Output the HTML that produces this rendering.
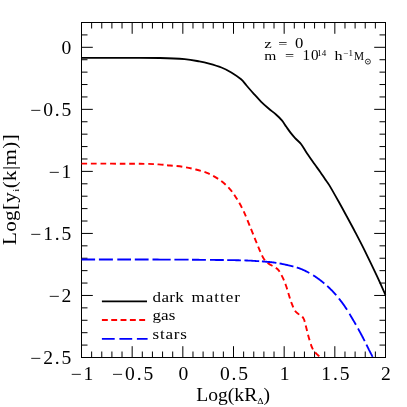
<!DOCTYPE html>
<html><head><meta charset="utf-8"><title>chart</title>
<style>
html,body{margin:0;padding:0;background:#fff;overflow:hidden;}
svg{display:block;position:absolute;left:0;top:0;font-family:"Liberation Serif",serif;fill:#000;-webkit-font-smoothing:antialiased;}
.t{filter:grayscale(1);}
</style></head>
<body>
<svg width="407" height="407" viewBox="0 0 407 407">
<rect width="407" height="407" fill="#fff"/>
<path d="M81.50 357.50v-11.30M81.50 22.50v11.30M91.63 357.50v-6.00M91.63 22.50v6.00M101.77 357.50v-6.00M101.77 22.50v6.00M111.90 357.50v-6.00M111.90 22.50v6.00M122.03 357.50v-6.00M122.03 22.50v6.00M132.17 357.50v-11.30M132.17 22.50v11.30M142.30 357.50v-6.00M142.30 22.50v6.00M152.43 357.50v-6.00M152.43 22.50v6.00M162.57 357.50v-6.00M162.57 22.50v6.00M172.70 357.50v-6.00M172.70 22.50v6.00M182.83 357.50v-11.30M182.83 22.50v11.30M192.97 357.50v-6.00M192.97 22.50v6.00M203.10 357.50v-6.00M203.10 22.50v6.00M213.23 357.50v-6.00M213.23 22.50v6.00M223.37 357.50v-6.00M223.37 22.50v6.00M233.50 357.50v-11.30M233.50 22.50v11.30M243.63 357.50v-6.00M243.63 22.50v6.00M253.77 357.50v-6.00M253.77 22.50v6.00M263.90 357.50v-6.00M263.90 22.50v6.00M274.03 357.50v-6.00M274.03 22.50v6.00M284.17 357.50v-11.30M284.17 22.50v11.30M294.30 357.50v-6.00M294.30 22.50v6.00M304.43 357.50v-6.00M304.43 22.50v6.00M314.57 357.50v-6.00M314.57 22.50v6.00M324.70 357.50v-6.00M324.70 22.50v6.00M334.83 357.50v-11.30M334.83 22.50v11.30M344.97 357.50v-6.00M344.97 22.50v6.00M355.10 357.50v-6.00M355.10 22.50v6.00M365.23 357.50v-6.00M365.23 22.50v6.00M375.37 357.50v-6.00M375.37 22.50v6.00M385.50 357.50v-11.30M385.50 22.50v11.30M81.50 357.50h11.30M385.50 357.50h-11.30M81.50 345.09h6.00M385.50 345.09h-6.00M81.50 332.69h6.00M385.50 332.69h-6.00M81.50 320.28h6.00M385.50 320.28h-6.00M81.50 307.87h6.00M385.50 307.87h-6.00M81.50 295.46h11.30M385.50 295.46h-11.30M81.50 283.06h6.00M385.50 283.06h-6.00M81.50 270.65h6.00M385.50 270.65h-6.00M81.50 258.24h6.00M385.50 258.24h-6.00M81.50 245.83h6.00M385.50 245.83h-6.00M81.50 233.43h11.30M385.50 233.43h-11.30M81.50 221.02h6.00M385.50 221.02h-6.00M81.50 208.61h6.00M385.50 208.61h-6.00M81.50 196.20h6.00M385.50 196.20h-6.00M81.50 183.80h6.00M385.50 183.80h-6.00M81.50 171.39h11.30M385.50 171.39h-11.30M81.50 158.98h6.00M385.50 158.98h-6.00M81.50 146.57h6.00M385.50 146.57h-6.00M81.50 134.17h6.00M385.50 134.17h-6.00M81.50 121.76h6.00M385.50 121.76h-6.00M81.50 109.35h11.30M385.50 109.35h-11.30M81.50 96.94h6.00M385.50 96.94h-6.00M81.50 84.54h6.00M385.50 84.54h-6.00M81.50 72.13h6.00M385.50 72.13h-6.00M81.50 59.72h6.00M385.50 59.72h-6.00M81.50 47.31h11.30M385.50 47.31h-11.30M81.50 34.91h6.00M385.50 34.91h-6.00M81.50 22.50h6.00M385.50 22.50h-6.00" stroke="#000" stroke-width="1" fill="none"/>
<rect x="81.5" y="22.5" width="304.0" height="335.0" fill="none" stroke="#000" stroke-width="1"/>
<path d="M81.50 57.80C89.75 57.80 117.92 57.77 131.00 57.80C144.08 57.83 151.07 57.77 160.00 58.00C168.93 58.23 178.05 58.63 184.60 59.20C191.15 59.77 195.22 60.67 199.30 61.40C203.38 62.13 205.42 62.58 209.10 63.60C212.78 64.62 217.70 66.03 221.40 67.50C225.10 68.97 228.02 70.43 231.30 72.40C234.58 74.37 238.57 77.12 241.10 79.30C243.63 81.48 244.38 83.08 246.50 85.50C248.62 87.92 251.35 91.08 253.80 93.80C256.25 96.52 258.73 99.35 261.20 101.80C263.67 104.25 266.13 106.38 268.60 108.50C271.07 110.62 273.78 112.52 276.00 114.50C278.22 116.48 280.18 118.35 281.90 120.40C283.62 122.45 284.83 124.72 286.30 126.80C287.77 128.88 289.23 131.02 290.70 132.90C292.17 134.78 293.35 136.22 295.10 138.10C296.85 139.98 299.20 141.62 301.20 144.20C303.20 146.78 304.88 150.28 307.10 153.60C309.32 156.92 312.28 161.00 314.50 164.10C316.72 167.20 318.68 169.75 320.40 172.20C322.12 174.65 323.30 176.60 324.80 178.80C326.30 181.00 326.98 181.40 329.40 185.40C331.82 189.40 336.42 197.65 339.30 202.80C342.18 207.95 344.03 211.38 346.70 216.30C349.37 221.22 352.22 226.42 355.30 232.30C358.38 238.18 361.58 244.28 365.20 251.60C368.82 258.92 373.63 269.00 377.00 276.20C380.37 283.40 384.00 291.70 385.40 294.80" stroke="#000" stroke-width="1.8" fill="none" stroke-linejoin="round"/>
<path d="M81.50 163.60C91.25 163.63 127.15 163.67 140.00 163.80C152.85 163.93 153.60 164.12 158.60 164.40C163.60 164.68 166.05 165.12 170.00 165.50C173.95 165.88 178.20 166.08 182.30 166.70C186.40 167.32 190.50 168.17 194.60 169.20C198.70 170.23 202.82 171.18 206.90 172.90C210.98 174.62 215.42 176.97 219.10 179.50C222.78 182.03 226.13 185.03 229.00 188.10C231.87 191.17 233.85 194.02 236.30 197.90C238.75 201.78 241.23 206.18 243.70 211.40C246.17 216.62 249.00 224.10 251.10 229.20C253.20 234.30 254.72 238.13 256.30 242.00C257.88 245.87 259.30 249.53 260.60 252.40C261.90 255.27 262.80 257.35 264.10 259.20C265.40 261.05 266.68 262.20 268.40 263.50C270.12 264.80 272.68 265.85 274.40 267.00C276.12 268.15 277.27 268.53 278.70 270.40C280.13 272.27 281.72 275.47 283.00 278.20C284.28 280.93 285.42 284.00 286.40 286.80C287.38 289.60 288.05 292.32 288.90 295.00C289.75 297.68 290.50 300.30 291.50 302.90C292.50 305.50 293.62 308.65 294.90 310.60C296.18 312.55 297.77 313.30 299.20 314.60C300.63 315.90 302.35 316.33 303.50 318.40C304.65 320.47 305.23 323.85 306.10 327.00C306.97 330.15 307.70 333.87 308.70 337.30C309.70 340.73 310.95 345.02 312.10 347.60C313.25 350.18 314.38 351.32 315.60 352.80C316.82 354.28 318.77 355.88 319.40 356.50" stroke="#f00" stroke-width="1.9" fill="none" stroke-dasharray="5.73 3.79"/>
<path d="M81.50 259.45L81.50 259.45L83.30 259.45L85.42 259.45L87.82 259.46L90.49 259.46L93.39 259.46L95.10 259.46M98.90 259.47L99.81 259.47L103.28 259.47L106.88 259.47L110.59 259.48L112.90 259.48M117.30 259.48L118.25 259.48L122.14 259.49L126.05 259.49L129.93 259.50L131.00 259.50M134.80 259.50L137.56 259.51L141.24 259.51L144.81 259.52L148.24 259.52L148.60 259.52M152.50 259.53L154.56 259.54L157.40 259.54L160.00 259.55L162.40 259.56L164.68 259.56L166.84 259.57L168.89 259.58L170.70 259.59M174.40 259.60L174.48 259.60L176.19 259.61L177.82 259.62L179.40 259.63L180.92 259.64L182.41 259.65L183.86 259.66L185.28 259.67L186.69 259.68L188.09 259.69L188.60 259.70M192.00 259.73L192.33 259.73L193.78 259.74L195.26 259.76L196.79 259.77L198.37 259.78L200.00 259.80L201.69 259.82L203.41 259.83L205.16 259.85L205.90 259.86M210.00 259.90L210.53 259.90L212.35 259.92L214.18 259.94L216.00 259.96L217.82 259.98L219.63 260.00L221.43 260.02L223.20 260.04L223.80 260.04M227.20 260.09L228.36 260.10L230.00 260.12L231.60 260.15L233.16 260.17L234.65 260.20L236.09 260.22L237.46 260.25L238.77 260.27L240.00 260.30L240.90 260.32M244.40 260.41L245.07 260.44L245.90 260.46L246.68 260.49L247.42 260.52L248.12 260.55L248.78 260.58L249.42 260.61L250.03 260.64L250.61 260.67L251.19 260.70L251.75 260.74L252.31 260.77L252.87 260.81L253.43 260.84L254.01 260.88L254.60 260.92L255.21 260.96L255.84 261.01L256.50 261.05L257.20 261.10L257.92 261.15L258.64 261.20L259.20 261.23M261.90 261.41L262.26 261.44L262.99 261.49L263.72 261.54L264.45 261.59L265.17 261.65L265.90 261.71L266.62 261.77L267.35 261.83L268.07 261.89L268.79 261.96L269.50 262.02L270.21 262.10L270.92 262.17L271.63 262.25L272.33 262.33L273.02 262.42L273.71 262.51L274.40 262.60L275.08 262.70L275.77 262.80L276.40 262.90M279.60 263.46L279.90 263.51L280.58 263.64L281.26 263.77L281.93 263.91L282.60 264.04L283.26 264.18L283.92 264.32L284.57 264.46L285.21 264.60L285.85 264.74L286.48 264.88L287.09 265.02L287.70 265.16L288.29 265.30L288.87 265.43L289.44 265.57L290.00 265.70L290.54 265.83L291.07 265.96L291.58 266.08L292.08 266.20L292.56 266.32L293.04 266.44L293.40 266.53M296.80 267.48L296.96 267.53L297.38 267.67L297.79 267.80L298.21 267.94L298.63 268.09L299.06 268.24L299.48 268.39L299.92 268.56L300.35 268.72L300.80 268.90L301.25 269.08L301.70 269.27L302.15 269.45L302.60 269.65L303.05 269.84L303.50 270.04L303.95 270.25L304.40 270.46L304.85 270.67L305.30 270.88L305.75 271.10L306.20 271.33L306.65 271.55L307.10 271.78L307.55 272.02L308.00 272.26L308.45 272.50L308.90 272.74L309.30 272.97M313.20 275.29L313.40 275.41L313.85 275.70L314.30 275.99L314.75 276.28L315.20 276.58L315.65 276.88L316.10 277.19L316.55 277.50L317.00 277.81L317.45 278.13L317.90 278.45L318.35 278.78L318.80 279.11L319.25 279.44L319.70 279.78L320.15 280.12L320.60 280.47L321.05 280.82L321.50 281.18L321.95 281.54L322.40 281.90L322.85 282.27L323.30 282.64L323.75 283.01L324.20 283.39L324.30 283.47M327.20 285.99L327.34 286.12L327.79 286.53L328.24 286.94L328.69 287.36L329.14 287.79L329.59 288.22L330.04 288.65L330.49 289.10L330.94 289.55L331.39 290.00L331.85 290.47L332.30 290.94L332.75 291.41L333.20 291.90L333.65 292.39L334.11 292.89L334.56 293.39L335.01 293.90L335.47 294.41L335.92 294.93L336.20 295.26M338.90 298.48L339.11 298.74L339.56 299.31L340.02 299.88L340.47 300.47L340.93 301.06L341.38 301.65L341.83 302.26L342.29 302.87L342.74 303.49L343.19 304.12L343.65 304.76L344.10 305.40L344.55 306.06L345.01 306.73L345.47 307.42L345.94 308.13L346.40 308.85L346.87 309.58L347.00 309.78M349.50 313.83L349.68 314.12L350.14 314.89L350.60 315.66L351.05 316.42L351.50 317.19L351.95 317.95L352.39 318.70L352.83 319.45L353.26 320.18L353.68 320.91L354.09 321.62L354.50 322.32L354.90 323.00L355.29 323.67L355.68 324.34L355.90 324.73M358.00 328.47L358.25 328.93L358.60 329.57L358.95 330.20L359.29 330.83L359.62 331.44L359.95 332.06L360.28 332.67L360.60 333.27L360.92 333.86L361.23 334.45L361.54 335.03L361.84 335.60L362.14 336.16L362.43 336.72L362.72 337.26L363.00 337.80L363.28 338.33L363.55 338.85L363.81 339.36L364.07 339.86L364.32 340.36L364.57 340.84L364.70 341.10M366.40 344.54L366.58 344.92L366.79 345.34L366.99 345.76L367.20 346.18L367.40 346.59L367.60 347.00L367.80 347.40L368.00 347.80L368.20 348.20L368.40 348.60L368.60 349.00L368.81 349.40L369.01 349.81L369.22 350.21L369.43 350.62L369.63 351.03L369.84 351.43L370.04 351.83L370.25 352.23L370.45 352.62L370.64 353.00L370.84 353.38L371.03 353.74L371.21 354.10L371.39 354.44L371.56 354.77L371.72 355.09L371.87 355.39L372.02 355.67L372.16 355.94L372.28 356.19L372.40 356.41L372.51 356.62L372.60 356.80L372.60 356.80" stroke="#00f" stroke-width="1.85" fill="none"/>
<path d="M101.9 301.4H147" stroke="#000" stroke-width="1.9"/>
<path d="M101.9 320.0H146.6" stroke="#f00" stroke-width="1.9" stroke-dasharray="5.9 3.43"/>
<path d="M101.9 338.9H147.6" stroke="#00f" stroke-width="1.9" stroke-dasharray="12.8 4.7"/>
<g class="t">
<text transform="translate(73.27 53.81) scale(1.1 1)" font-size="17.8" text-anchor="end" style="letter-spacing:1.7px" >0</text>
<text transform="translate(73.27 115.85) scale(1.1 1)" font-size="17.8" text-anchor="end" style="letter-spacing:1.7px" >−0.5</text>
<text transform="translate(73.27 177.89) scale(1.1 1)" font-size="17.8" text-anchor="end" style="letter-spacing:1.7px" >−1</text>
<text transform="translate(73.27 239.93) scale(1.1 1)" font-size="17.8" text-anchor="end" style="letter-spacing:1.7px" >−1.5</text>
<text transform="translate(73.27 301.96) scale(1.1 1)" font-size="17.8" text-anchor="end" style="letter-spacing:1.7px" >−2</text>
<text transform="translate(73.27 364.00) scale(1.1 1)" font-size="17.8" text-anchor="end" style="letter-spacing:1.7px" >−2.5</text>
<text transform="translate(82.94 380.00) scale(1.1 1)" font-size="17.8" text-anchor="middle" style="letter-spacing:1.7px" >−1</text>
<text transform="translate(133.60 380.00) scale(1.1 1)" font-size="17.8" text-anchor="middle" style="letter-spacing:1.7px" >−0.5</text>
<text transform="translate(184.27 380.00) scale(1.1 1)" font-size="17.8" text-anchor="middle" style="letter-spacing:1.7px" >0</text>
<text transform="translate(234.94 380.00) scale(1.1 1)" font-size="17.8" text-anchor="middle" style="letter-spacing:1.7px" >0.5</text>
<text transform="translate(285.60 380.00) scale(1.1 1)" font-size="17.8" text-anchor="middle" style="letter-spacing:1.7px" >1</text>
<text transform="translate(336.27 380.00) scale(1.1 1)" font-size="17.8" text-anchor="middle" style="letter-spacing:1.7px" >1.5</text>
<text transform="translate(386.94 380.00) scale(1.1 1)" font-size="17.8" text-anchor="middle" style="letter-spacing:1.7px" >2</text>
<text transform="translate(233.20 401.20) scale(1.1 1)" font-size="17.8" text-anchor="middle" >Log(kR<tspan font-size="9" dy="3">Δ</tspan><tspan dy="-3">)</tspan></text>
<text transform="translate(16.2 189.5) rotate(-90) scale(1.18 1)" font-size="17.8" text-anchor="middle" style="letter-spacing:0.34px">Log[y<tspan font-size="9" dy="3">i</tspan><tspan dy="-3">(k|m)]</tspan></text>
<text transform="translate(264.20 47.60) scale(1.25 1)" font-size="13.5" text-anchor="start" >z</text>
<text transform="translate(278.20 47.80) scale(1.2 1)" font-size="13.5" text-anchor="start" >=</text>
<text transform="translate(295.00 47.60) scale(1.08 1)" font-size="15.4" text-anchor="start" >0</text>
<text transform="translate(264.20 59.50) scale(1.15 1)" font-size="13.5" text-anchor="start" >m</text>
<text transform="translate(284.90 59.80) scale(1.2 1)" font-size="13.5" text-anchor="start" >=</text>
<text transform="translate(302.60 59.50) scale(0.98 1)" font-size="15.4" text-anchor="start" style="letter-spacing:0.9px" >10</text>
<text transform="translate(317.20 56.40) scale(1.1 1)" font-size="8.2" text-anchor="start" >14</text>
<text transform="translate(334.40 59.50) scale(1.2 1)" font-size="13.5" text-anchor="start" >h</text>
<text transform="translate(343.40 56.40) scale(1.1 1)" font-size="8.2" text-anchor="start" >−1</text>
<text transform="translate(353.90 59.50) scale(0.84 1)" font-size="13.5" text-anchor="start" >M</text>
<circle cx="367.9" cy="61.6" r="2.5" fill="none" stroke="#000" stroke-width="0.8"/><circle cx="367.9" cy="61.6" r="0.7" fill="#000"/>
<text transform="translate(152.60 302.00) scale(1.2 1)" font-size="14.2" text-anchor="start" style="letter-spacing:0.25px" >dark</text>
<text transform="translate(191.60 302.00) scale(1.2 1)" font-size="14.2" text-anchor="start" style="letter-spacing:0.8px" >matter</text>
<text transform="translate(152.60 320.30) scale(1.2 1)" font-size="14.2" text-anchor="start" >gas</text>
<text transform="translate(152.60 338.60) scale(1.2 1)" font-size="14.2" text-anchor="start" style="letter-spacing:0.62px" >stars</text>
</g>
</svg>
</body></html>
